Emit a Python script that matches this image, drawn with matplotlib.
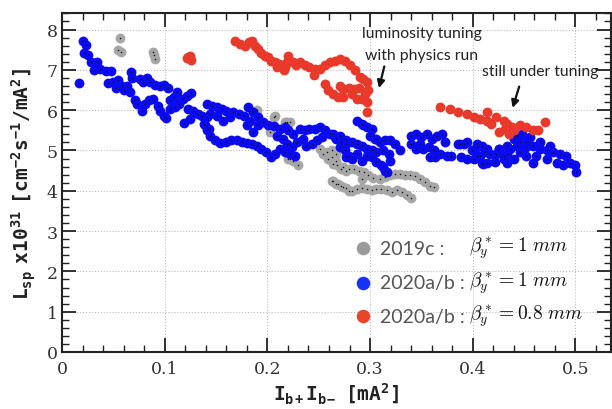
import matplotlib.pyplot as plt
import numpy as np

# specific luminosity vs bunch current product
gray_pts = [
    (0.056, 7.79), (0.055, 7.48), (0.057, 7.45), (0.089, 7.44), (0.090, 7.36), (0.091, 7.26),
    (0.185, 5.98), (0.190, 6.00), (0.203, 5.45), (0.206, 5.82), (0.207, 5.85), (0.217, 5.70),
    (0.219, 5.70), (0.222, 5.70), (0.220, 4.79), (0.222, 4.79), (0.225, 4.75), (0.230, 4.63),
    (0.251, 5.04), (0.254, 4.91), (0.258, 4.95), (0.259, 4.79), (0.263, 4.83), (0.264, 4.67),
    (0.268, 4.63), (0.272, 4.54), (0.277, 4.50), (0.263, 5.00), (0.267, 4.91), (0.267, 4.75),
    (0.274, 4.58), (0.279, 4.54), (0.284, 4.54), (0.289, 4.50), (0.294, 4.46), (0.298, 4.38),
    (0.303, 4.32), (0.292, 4.29), (0.310, 4.29), (0.315, 4.33), (0.319, 4.38), (0.324, 4.42),
    (0.329, 4.42), (0.334, 4.38), (0.339, 4.39), (0.344, 4.36), (0.349, 4.29), (0.353, 4.21),
    (0.358, 4.13), (0.362, 4.10), (0.264, 4.25), (0.269, 4.17), (0.274, 4.09), (0.279, 4.00),
    (0.263, 4.25), (0.267, 4.17), (0.272, 4.13), (0.277, 4.06), (0.282, 4.00), (0.287, 4.05),
    (0.292, 4.06), (0.297, 4.05), (0.302, 4.01), (0.306, 4.05), (0.311, 4.05), (0.316, 4.01),
    (0.321, 3.96), (0.326, 4.01), (0.331, 3.96), (0.336, 3.89), (0.340, 3.83),
]

blue_pts = [
    (0.017, 6.67), (0.020, 7.71), (0.023, 7.62), (0.021, 7.41), (0.025, 7.36), (0.028, 7.19),
    (0.034, 7.20), (0.031, 6.99), (0.037, 7.02), (0.043, 6.96), (0.048, 6.96), (0.045, 6.67),
    (0.050, 6.71), (0.055, 6.74), (0.053, 6.54), (0.058, 6.59), (0.060, 6.50), (0.063, 6.61),
    (0.066, 6.44), (0.067, 6.94), (0.068, 6.79), (0.071, 6.24), (0.073, 6.15), (0.078, 5.99),
    (0.081, 6.15), (0.085, 6.24), (0.089, 6.28), (0.093, 6.11), (0.095, 5.99), (0.099, 5.86),
    (0.101, 5.80), (0.076, 6.77), (0.079, 6.71), (0.083, 6.79), (0.086, 6.69), (0.091, 6.63),
    (0.095, 6.59), (0.099, 6.63), (0.103, 6.54), (0.105, 6.24), (0.109, 6.32), (0.112, 6.44),
    (0.114, 6.15), (0.118, 6.28), (0.122, 6.36), (0.126, 6.43), (0.110, 6.07), (0.105, 6.03),
    (0.123, 6.03), (0.119, 5.68), (0.125, 5.78), (0.128, 5.99), (0.132, 5.91), (0.136, 5.86),
    (0.141, 5.82), (0.139, 5.62), (0.143, 5.53),
    (0.141, 6.15), (0.146, 6.11), (0.151, 6.07), (0.156, 6.03), (0.160, 5.99), (0.167, 5.96),
    (0.172, 5.91), (0.177, 5.86), (0.181, 6.07), (0.186, 5.95), (0.191, 5.82), (0.196, 5.70),
    (0.201, 5.62), (0.206, 5.60), (0.212, 5.53), (0.217, 5.57), (0.220, 5.50), (0.225, 5.41),
    (0.183, 5.74), (0.180, 5.62), (0.186, 5.46), (0.191, 5.62), (0.157, 5.74), (0.151, 5.86),
    (0.144, 5.91), (0.164, 5.82), (0.209, 5.37), (0.215, 5.29), (0.219, 5.16), (0.224, 5.08),
    (0.229, 5.20), (0.232, 5.53), (0.237, 5.50), (0.241, 5.53), (0.246, 5.53), (0.251, 5.57),
    (0.256, 5.50), (0.261, 5.41), (0.266, 5.33), (0.271, 5.37), (0.277, 5.25), (0.235, 5.29),
    (0.238, 5.12), (0.243, 5.16), (0.248, 5.25), (0.253, 5.33), (0.271, 5.08), (0.276, 5.00),
    (0.279, 4.87),
    (0.138, 5.66), (0.141, 5.50), (0.144, 5.37), (0.149, 5.25), (0.154, 5.19), (0.160, 5.20),
    (0.165, 5.25), (0.170, 5.25), (0.175, 5.20), (0.180, 5.19), (0.185, 5.16), (0.190, 5.10),
    (0.194, 5.04), (0.199, 4.95), (0.204, 4.83), (0.207, 4.91), (0.212, 5.04), (0.217, 4.95),
    (0.222, 4.91), (0.227, 4.87),
    (0.287, 5.74), (0.292, 5.66), (0.297, 5.57), (0.302, 5.53), (0.300, 5.37), (0.305, 5.29),
    (0.310, 5.20), (0.315, 5.25), (0.319, 5.25), (0.324, 5.16), (0.329, 5.00), (0.264, 5.41),
    (0.267, 5.29), (0.272, 5.20), (0.277, 5.16), (0.282, 5.20), (0.287, 5.16), (0.292, 5.12),
    (0.297, 5.04), (0.277, 4.83), (0.282, 4.79), (0.287, 4.91), (0.292, 4.75), (0.297, 4.87),
    (0.302, 4.83), (0.306, 4.71), (0.311, 4.63), (0.315, 4.50), (0.319, 4.75), (0.302, 5.00),
    (0.306, 4.95), (0.313, 5.00), (0.318, 4.91), (0.293, 5.62), (0.306, 5.29), (0.316, 4.46),
    (0.313, 4.58),
    (0.340, 5.37), (0.345, 5.41), (0.350, 5.33), (0.355, 5.41), (0.360, 5.29), (0.365, 5.37),
    (0.370, 5.41), (0.373, 5.20), (0.340, 5.16), (0.345, 5.04), (0.349, 5.16), (0.352, 5.04),
    (0.357, 5.08), (0.362, 5.00), (0.358, 4.83), (0.363, 4.83), (0.368, 4.91), (0.375, 4.87),
    (0.379, 4.87), (0.386, 5.16), (0.391, 5.16), (0.389, 4.83), (0.394, 4.79), (0.399, 5.00),
    (0.404, 5.16), (0.409, 5.12), (0.414, 5.04), (0.404, 4.87), (0.410, 4.67), (0.417, 4.91),
    (0.422, 4.71), (0.426, 5.04), (0.430, 4.79), (0.433, 4.91),
    (0.388, 5.16), (0.394, 5.20), (0.404, 5.08), (0.412, 4.95), (0.414, 4.70), (0.423, 4.91),
    (0.430, 4.87), (0.436, 5.04), (0.440, 5.29), (0.443, 5.37), (0.448, 5.41), (0.446, 5.20),
    (0.452, 5.20), (0.456, 5.33), (0.459, 5.12), (0.465, 5.04), (0.472, 5.00), (0.478, 4.95),
    (0.485, 4.91), (0.491, 4.87), (0.495, 4.70), (0.500, 4.63), (0.501, 4.46), (0.482, 4.70),
    (0.488, 4.63), (0.472, 4.79), (0.462, 4.87), (0.459, 4.70), (0.452, 4.87), (0.446, 4.95),
    (0.440, 4.79), (0.433, 4.70), (0.452, 5.08), (0.443, 5.12), (0.433, 5.12), (0.426, 5.04),
    (0.407, 4.87), (0.401, 4.79), (0.409, 4.70), (0.465, 5.20), (0.475, 5.12),
]

red_pts = [
    (0.122, 7.30), (0.125, 7.35), (0.126, 7.25), (0.123, 7.31),
    (0.168, 7.72), (0.173, 7.64), (0.178, 7.60), (0.182, 7.68), (0.185, 7.72), (0.188, 7.60),
    (0.191, 7.52), (0.194, 7.43), (0.198, 7.35), (0.201, 7.31), (0.204, 7.23), (0.207, 7.19),
    (0.211, 7.15), (0.214, 7.11), (0.217, 7.07), (0.220, 7.35), (0.222, 7.23), (0.219, 7.19),
    (0.225, 7.19), (0.228, 7.11), (0.232, 7.19), (0.237, 7.11), (0.241, 7.07), (0.245, 6.86),
    (0.246, 7.02), (0.251, 7.02), (0.256, 7.11), (0.261, 7.19), (0.266, 7.23), (0.271, 7.27),
    (0.276, 7.23), (0.280, 7.11), (0.285, 6.99), (0.290, 6.82), (0.293, 6.77), (0.297, 6.69),
    (0.298, 6.49), (0.295, 6.40), (0.292, 6.28), (0.297, 6.20), (0.297, 5.96), (0.289, 6.56),
    (0.284, 6.52), (0.279, 6.56), (0.274, 6.52), (0.271, 6.61), (0.282, 6.40), (0.287, 6.28),
    (0.256, 6.64), (0.259, 6.49), (0.264, 6.40), (0.269, 6.32), (0.274, 6.32), (0.209, 7.07),
    (0.216, 6.99),
    (0.368, 6.07), (0.378, 6.03), (0.386, 5.95), (0.394, 5.91), (0.401, 5.82), (0.407, 5.78),
    (0.414, 5.74), (0.418, 5.66), (0.414, 5.95), (0.423, 5.82), (0.430, 5.74), (0.433, 5.66),
    (0.426, 5.45), (0.431, 5.53), (0.438, 5.57), (0.446, 5.62), (0.452, 5.57), (0.459, 5.50),
    (0.464, 5.50), (0.470, 5.70), (0.440, 5.50), (0.435, 5.41),
]

x_ticks = [0, 0.1, 0.2, 0.3, 0.4, 0.5]
y_ticks = [0, 1, 2, 3, 4, 5, 6, 7, 8]

run_labels = ['2019c :', '2020a/b :', '2020a/b :']
beta_labels = [r'$\beta^*_y = 1\ mm$', r'$\beta^*_y = 1\ mm$', r'$\beta^*_y = 0.8\ mm$']
legend_colors = ['#9a9a9a', '#1433f5', '#e8452d']

plt.rcParams['mathtext.fontset'] = 'custom'
plt.rcParams['mathtext.rm'] = 'DejaVu Sans Mono:bold'
plt.rcParams['mathtext.it'] = 'DejaVu Sans Mono:bold'
plt.rcParams['mathtext.bf'] = 'DejaVu Sans Mono:bold'

fig = plt.figure(figsize=(6.12, 4.10), dpi=100)
ax = fig.add_axes([62 / 612, 57 / 410, 549 / 612, 339 / 410])

c_gray, c_blue, c_red = '#a6a6a6', '#0a0af5', '#e8392a'
for pts, col, dots in [(gray_pts, c_gray, True), (blue_pts, c_blue, True), (red_pts, c_red, False)]:
    xs, ys = np.array(pts).T
    ax.scatter(xs, ys, s=50, c=col, linewidths=0, zorder=3)
    if dots:
        ax.scatter(xs, ys, s=1.2, c='#111111', linewidths=0, zorder=4)

ax.set_xlim(0, 0.5346)
ax.set_ylim(0, 8.41)
ax.set_xticks(x_ticks)
ax.set_yticks(y_ticks)
ax.set_xticklabels(['0', '0.1', '0.2', '0.3', '0.4', '0.5'])
ax.set_xticks(np.arange(0, 0.54, 0.02), minor=True)
ax.set_yticks(np.arange(0, 8.41, 0.2), minor=True)
ax.tick_params(which='both', direction='in', top=True, right=True, color='#222222')
ax.tick_params(which='major', length=10, width=1.3)
ax.tick_params(which='minor', length=5, width=1.0)
for lbl in ax.get_xticklabels() + ax.get_yticklabels():
    lbl.set_family('DejaVu Serif')
    lbl.set_fontsize(12.5)
    lbl.set_color('#333333')
ax.tick_params(axis='x', pad=6)
ax.tick_params(axis='y', pad=3)
for sp in ax.spines.values():
    sp.set_linewidth(1.5)
    sp.set_color('#222222')
ax.grid(True, which='major', ls=':', color='#bbbbbb', lw=0.8)
ax.set_axisbelow(True)

ax.set_xlabel(r'$\mathrm{I_{b+}I_{b-}\ \ [mA^{2}]}$', fontsize=14, color='#222222', labelpad=2)
ax.set_ylabel(r'$\mathrm{L_{sp}\ \ x10^{31}\ \ [cm^{-2}s^{-1}/mA^{2}]}$', fontsize=14,
              color='#222222', labelpad=6)

# annotations: text and arrows placed separately
arrow_kw = dict(arrowstyle='-|>', color='#111111', lw=1.6, mutation_scale=11)
ax.text(0.3505, 7.65, 'luminosity tuning\nwith physics run', fontsize=11.3, family='Lato',
        ha='center', va='center', color='#222222', linespacing=1.75)
ax.annotate('', xy=(0.308, 6.48), xytext=(0.3145, 7.15), arrowprops=arrow_kw)
ax.text(0.4657, 6.97, 'still under tuning', fontsize=11.3, family='Lato',
        ha='center', va='center', color='#222222')
ax.annotate('', xy=(0.438, 5.99), xytext=(0.446, 6.65), arrowprops=arrow_kw)

# legend drawn by hand: gray run labels, black math
row_y = [0.306, 0.205, 0.106]
for yy, run, beta, col in zip(row_y, run_labels, beta_labels, legend_colors):
    ax.scatter([0.548], [yy], s=95, c=col, linewidths=0, transform=ax.transAxes, zorder=5)
    ax.text(0.579, yy, run, transform=ax.transAxes, fontsize=14, family='Lato',
            color='#555555', va='center', ha='left')
    ax.text(0.742, yy, beta, transform=ax.transAxes, fontsize=14, color='#111111',
            va='center', ha='left', math_fontfamily='cm')

fig.savefig('out.png', dpi=100)
